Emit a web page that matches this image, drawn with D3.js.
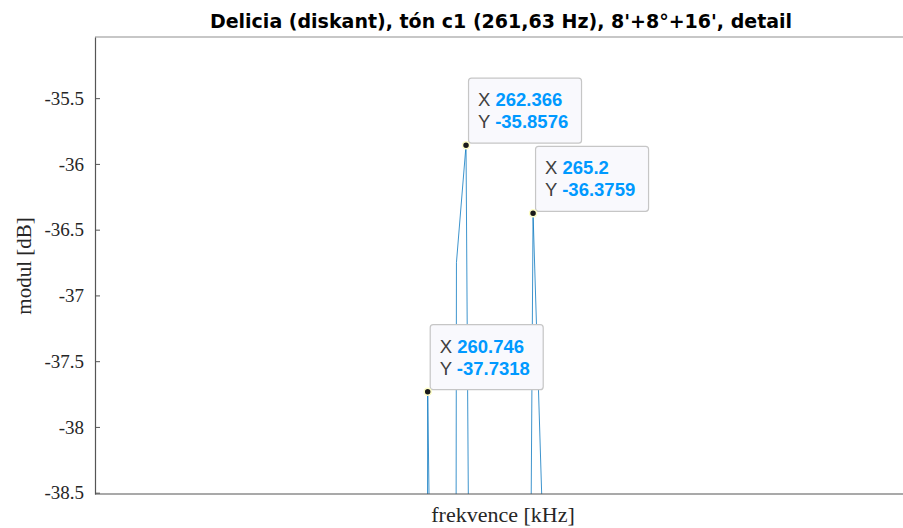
<!DOCTYPE html>
<html>
  <head>
    <title>Delicia (diskant), detail</title>
    <meta charset="utf-8">
    <script type="text/javascript" src="https://cdn.jsdelivr.net/npm/d3@7"></script>
    <style>
      body { margin: 0; background: #fff; }
      svg { display: block; }
    </style>
  </head>
  <body>
    <div id="figure"></div>
    <script type="text/javascript">
    // spectrum samples around c1 (Hz, dB) - values far below the y range are off chart
    var freqs = [259.936, 260.341, 260.746, 261.151, 261.556, 261.961, 262.366, 262.771,
                 263.176, 263.581, 263.986, 264.391, 264.795, 265.200, 265.605, 266.010];
    var modul = [-85, -80, -37.7318, -43.5, -90, -36.75, -35.8576, -47,
                 -70, -85, -75, -80, -47.5, -36.3759, -38.75, -75];

    // data tips
    var tipX = [262.366, 265.2, 260.746];
    var tipY = [-35.8576, -36.3759, -37.7318];
    var tipXText = ['262.366', '265.2', '260.746'];
    var tipYText = ['-35.8576', '-36.3759', '-37.7318'];

    var yTicks = [-38.5, -38, -37.5, -37, -36.5, -36, -35.5];
    var xLimits = [246.68, 280.84];
    var yLimits = [-38.51, -35.035];

    var title = "Delicia (diskant), tón c1 (261,63 Hz), 8'+8°+16', detail";
    var xLabel = 'frekvence [kHz]';
    var yLabel = 'modul [dB]';

    (function(){
        var W = 903;
        var H = 528;
        var L = 95, R = 903, T = 37, B = 494;

        var svg = d3.select('#figure')
                    .append('svg')
                    .attr('width', W)
                    .attr('height', H);

        var x = d3.scaleLinear().domain(xLimits).range([L, R]);
        var y = d3.scaleLinear().domain(yLimits).range([B, T]);

        svg.append('clipPath')
           .attr('id', 'plotclip')
           .append('rect')
           .attr('x', L).attr('y', T)
           .attr('width', R - L).attr('height', B - T);

        // top box line
        svg.append('line')
           .attr('x1', L).attr('x2', R)
           .attr('y1', T).attr('y2', T)
           .attr('stroke', '#b4b4b4')
           .attr('stroke-width', 1.5);

        // spectrum
        var pts = freqs.map(function(f, i){ return [f, modul[i]]; });
        var line = d3.line()
                     .x(function(d){ return x(d[0]); })
                     .y(function(d){ return y(d[1]); });
        svg.append('path')
           .datum(pts)
           .attr('clip-path', 'url(#plotclip)')
           .attr('d', line)
           .attr('fill', 'none')
           .attr('stroke', '#0072BD')
           .attr('stroke-opacity', 0.85)
           .attr('stroke-width', 0.9);

        // y axis
        var yAxis = d3.axisLeft(y)
                      .tickValues(yTicks)
                      .tickSizeInner(-5)
                      .tickSizeOuter(0)
                      .tickPadding(11)
                      .tickFormat(function(d){ return String(d); });
        var gy = svg.append('g')
                    .attr('transform', 'translate(' + L + ',0)')
                    .call(yAxis);
        gy.select('.domain').attr('stroke', '#555').attr('stroke-width', 1.2);
        gy.selectAll('.tick line').attr('stroke', '#555');
        gy.selectAll('.tick text')
          .attr('fill', '#262626')
          .style('font-family', '"Liberation Serif", "DejaVu Serif", serif')
          .style('font-size', '19px');

        // x axis (no ticks shown)
        svg.append('line')
           .attr('x1', L).attr('x2', R)
           .attr('y1', B).attr('y2', B)
           .attr('stroke', '#555')
           .attr('stroke-width', 1.2);

        // labels
        svg.append('text')
           .attr('x', 501).attr('y', 28)
           .attr('text-anchor', 'middle')
           .style('font-family', '"DejaVu Sans", "Liberation Sans", sans-serif')
           .style('font-weight', 'bold')
           .style('font-size', '19px')
           .attr('fill', '#000')
           .text(title);

        svg.append('text')
           .attr('x', 503).attr('y', 522)
           .attr('text-anchor', 'middle')
           .style('font-family', '"Liberation Serif", "DejaVu Serif", serif')
           .style('font-size', '22px')
           .attr('fill', '#262626')
           .text(xLabel);

        svg.append('text')
           .attr('transform', 'translate(31,266) rotate(-90)')
           .attr('text-anchor', 'middle')
           .style('font-family', '"Liberation Serif", "DejaVu Serif", serif')
           .style('font-size', '21px')
           .attr('fill', '#262626')
           .text(yLabel);

        // data tips
        var tips = svg.selectAll('g.tip')
                      .data(tipX.map(function(v, i){ return i; }))
                      .enter()
                      .append('g')
                      .attr('class', 'tip');

        tips.append('rect')
            .attr('x', function(i){ return x(tipX[i]) + 2.5; })
            .attr('y', function(i){ return y(tipY[i]) - 67; })
            .attr('width', 113)
            .attr('height', 65)
            .attr('rx', 3)
            .attr('fill', '#f9f9fd')
            .attr('stroke', '#c6c6c6')
            .attr('stroke-width', 1.2);

        tips.append('circle')
            .attr('cx', function(i){ return x(tipX[i]); })
            .attr('cy', function(i){ return y(tipY[i]); })
            .attr('r', 3.5)
            .attr('fill', '#1a1a1a')
            .attr('stroke', '#ffffc8')
            .attr('stroke-width', 1.5);

        var rows = [['X ', tipXText, 28], ['Y ', tipYText, 50]];
        rows.forEach(function(row){
            var t = tips.append('text')
                        .attr('x', function(i){ return x(tipX[i]) + 12; })
                        .attr('y', function(i){ return y(tipY[i]) - 67 + row[2]; })
                        .style('font-family', '"Liberation Sans", Arial, sans-serif')
                        .style('font-size', '18.5px');
            t.append('tspan')
             .attr('fill', '#404040')
             .text(row[0]);
            t.append('tspan')
             .attr('fill', '#0099ff')
             .style('font-weight', 'bold')
             .text(function(i){ return row[1][i]; });
        });
    })();
    </script>
  </body>
</html>
